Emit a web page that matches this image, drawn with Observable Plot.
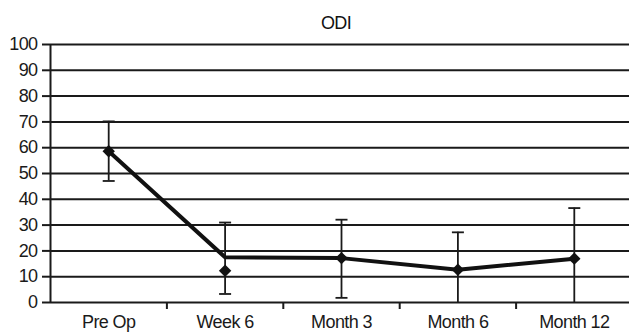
<!DOCTYPE html>
<html>
<head>
<meta charset="utf-8">
<script src="https://cdn.jsdelivr.net/npm/d3@7"></script>
<script src="https://cdn.jsdelivr.net/npm/@observablehq/plot@0.6"></script>
<style>
  html, body { margin: 0; padding: 0; background: #fff; }
  svg text { letter-spacing: -0.6px; }
</style>
</head>
<body>
<div id="chart"></div>
<script>
const categories = ["Pre Op", "Week 6", "Month 3", "Month 6", "Month 12"];
const lineValues = [58.6, 17.5, 17.2, 12.7, 17.0];
const markerValues = [58.6, 12.3, 17.2, 12.7, 17.0];
const errLow = [47.1, 3.3, 1.8, 0, 0];
const errHigh = [70.2, 31.0, 32.1, 27.2, 36.6];
const yTicks = [0, 10, 20, 30, 40, 50, 60, 70, 80, 90, 100];
const title = "ODI";

const data = categories.map((c, i) => ({
  cat: c, pos: i + 0.5, line: lineValues[i], marker: markerValues[i], lo: errLow[i], hi: errHigh[i]
}));
const caps = data.flatMap(d => [{pos: d.pos, v: d.hi}, ...(d.lo > 0 ? [{pos: d.pos, v: d.lo}] : [])]);

const capSymbol = {
  draw(context, size) {
    const w = 6;
    context.moveTo(-w, 0);
    context.lineTo(w, 0);
  }
};

const font = "'Liberation Sans', Arial, sans-serif";
const ink = "#1a1a1a";

const chart = Plot.plot({
  width: 629,
  height: 332,
  marginTop: 44,
  marginBottom: 30,
  marginLeft: 50,
  marginRight: 0,
  style: { fontFamily: font, fontSize: "18px", color: ink, background: "#fff", overflow: "visible" },
  x: { type: "linear", domain: [0, categories.length], range: [50, 632] },
  y: { domain: [0, 100], range: [302, 44] },
  marks: [
    Plot.ruleY(yTicks, { stroke: ink, strokeWidth: 2, strokeOpacity: 1, x1: 0, x2: categories.length }),
    Plot.axisY({ ticks: yTicks, tickSize: 8, tickPadding: 5, strokeWidth: 2, stroke: ink, fontSize: 18, fill: "#1a1a1a", label: null }),
    Plot.ruleX([0], { y1: 0, y2: 100, stroke: ink, strokeWidth: 2 }),
    Plot.axisX({ ticks: [1, 2, 3, 4], tickSize: 7, tickFormat: () => "", strokeWidth: 2, stroke: ink, label: null }),
    Plot.axisX({ ticks: data.map(d => d.pos), tickSize: 0, tickPadding: 13, tickFormat: v => categories[Math.round(v - 0.5)], fontSize: 18, fill: "#1a1a1a", label: null }),
    Plot.ruleX(data, { x: "pos", y1: "lo", y2: "hi", stroke: ink, strokeWidth: 1.8 }),
    Plot.dot(caps, { x: "pos", y: "v", symbol: capSymbol, stroke: ink, strokeWidth: 1.8, r: 4 }),
    Plot.line(data, { x: "pos", y: "line", stroke: "#111", strokeWidth: 4 }),
    Plot.dot(data, { x: "pos", y: "marker", symbol: "diamond2", fill: "#111", stroke: "none", r: 5.6 }),
    Plot.text([title], { frameAnchor: "top", dx: -4, dy: -16, lineAnchor: "bottom", fontSize: 18, fill: "#111", text: d => d })
  ]
});
document.getElementById("chart").appendChild(chart);
</script>
</body>
</html>
